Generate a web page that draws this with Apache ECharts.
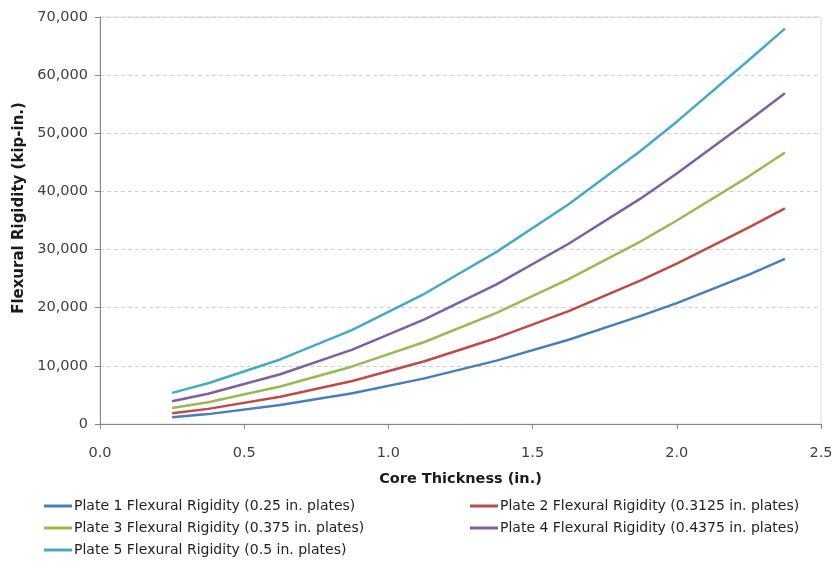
<!DOCTYPE html>
<html>
<head>
<meta charset="utf-8">
<script src="https://cdn.jsdelivr.net/npm/echarts@6/dist/echarts.min.js"></script>
<style>
html,body{margin:0;padding:0;background:#fff;}
#chart{width:839px;height:561px;}
</style>
</head>
<body>
<div id="chart"></div>
<script>
var coreThickness = [0.25, 0.375, 0.625, 0.875, 1.125, 1.375, 1.625, 1.875, 2.0, 2.25, 2.375];
var plate1 = [1150, 1700, 3250, 5300, 7850, 10900, 14500, 18600, 20800, 25700, 28400];
var plate2 = [1850, 2600, 4700, 7400, 10800, 14800, 19400, 24700, 27600, 33800, 37100];
var plate3 = [2750, 3750, 6450, 9900, 14100, 19100, 24900, 31400, 35000, 42600, 46700];
var plate4 = [3900, 5200, 8550, 12800, 18000, 24000, 31000, 38800, 43100, 52200, 56900];
var plate5 = [5350, 7000, 11100, 16200, 22400, 29600, 37800, 47000, 52000, 62600, 68000];
var seriesNames = [
  'Plate 1 Flexural Rigidity (0.25 in. plates)',
  'Plate 2 Flexural Rigidity (0.3125 in. plates)',
  'Plate 3 Flexural Rigidity (0.375 in. plates)',
  'Plate 4 Flexural Rigidity (0.4375 in. plates)',
  'Plate 5 Flexural Rigidity (0.5 in. plates)'
];
var xTitle = 'Core Thickness (in.)';
var yTitle = 'Flexural Rigidity (kip-in.)';
var seriesValues = [plate1, plate2, plate3, plate4, plate5];
var colors = ['#4A7EBB', '#BE4B48', '#98B954', '#7D60A0', '#46AAC5'];

var FONT = '"DejaVu Sans"';
var chart = echarts.init(document.getElementById('chart'), null, {renderer: 'canvas'});

var series = seriesValues.map(function (vals, i) {
  return {
    name: seriesNames[i],
    type: 'line',
    data: coreThickness.map(function (x, j) { return [x, vals[j]]; }),
    showSymbol: false,
    symbol: 'none',
    lineStyle: {color: colors[i], width: 2.5},
    itemStyle: {color: colors[i]},
    animation: false
  };
});

var legendCommon = {
  orient: 'vertical',
  icon: 'rect',
  itemWidth: 28,
  itemHeight: 3,
  itemGap: 6,
  textStyle: {fontFamily: FONT, fontSize: 14, color: '#1f1f1f', lineHeight: 16, padding: [0,0,0,-3]},
  padding: 0
};

var option = {
  backgroundColor: '#ffffff',
  animation: false,
  color: colors,
  grid: {left: 100, right: 18, top: 17, bottom: 137, show: true, borderColor: '#D9D9D9', borderWidth: 1},
  legend: [
    Object.assign({}, legendCommon, {left: 44, top: 498, data: [seriesNames[0], seriesNames[2], seriesNames[4]]}),
    Object.assign({}, legendCommon, {left: 470, top: 498, data: [seriesNames[1], seriesNames[3]]})
  ],
  graphic: [{
    type: 'text', x: 19, y: 208, rotation: Math.PI / 2,
    style: {text: yTitle, fontFamily: 'DejaVu Sans', fontSize: 15, fontWeight: 'bold', fill: '#1a1a1a',
      textAlign: 'center', textVerticalAlign: 'middle'}
  }],
  xAxis: {
    type: 'value', min: 0, max: 2.5, interval: 0.5,
    name: xTitle, nameLocation: 'middle', nameGap: 48,
    nameTextStyle: {fontFamily: FONT, fontSize: 14.5, fontWeight: 'bold', color: '#1a1a1a'},
    axisLine: {show: true, lineStyle: {color: '#868686', width: 1}},
    axisTick: {show: true, inside: false, length: 5, lineStyle: {color: '#868686'}},
    axisLabel: {fontFamily: FONT, fontSize: 14.5, color: '#404040', margin: 22,
      formatter: function (v) { return v.toFixed(1); }},
    splitLine: {show: false}
  },
  yAxis: {
    type: 'value', min: 0, max: 70000, interval: 10000,
    axisLine: {show: true, lineStyle: {color: '#868686', width: 1}},
    axisTick: {show: true, inside: false, length: 5, lineStyle: {color: '#868686'}},
    axisLabel: {fontFamily: FONT, fontSize: 14.5, color: '#404040', margin: 12,
      formatter: function (v) { return v.toLocaleString('en-US'); }},
    splitLine: {show: true, lineStyle: {color: '#D0D0D0', type: [4, 3], width: 1}}
  },
  series: series
};
chart.setOption(option);
</script>
</body>
</html>
